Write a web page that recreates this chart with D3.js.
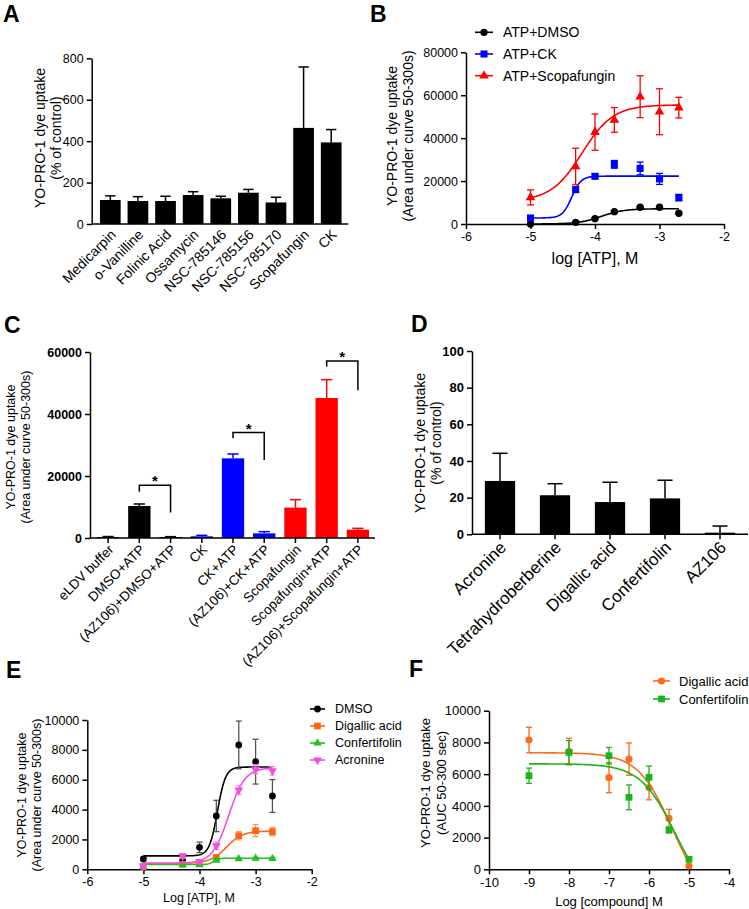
<!DOCTYPE html>
<html>
<head>
<meta charset="utf-8">
<script src="https://cdn.jsdelivr.net/npm/d3@7"></script>
<style>
  body { margin: 0; background: #fff; }
  svg { font-family: "Liberation Sans", Arial, sans-serif; }
</style>
</head>
<body>
<svg id="fig" width="749" height="909"></svg>
<script>
// ---------- data ----------

// A: compound screen, % of control
const aNames = ["Medicarpin", "o-Vanilline", "Folinic Acid", "Ossamycin", "NSC-785146",
                "NSC-785156", "NSC-785170", "Scopafungin", "CK"];
const aMeans = [116, 111, 111, 140, 124, 151, 104, 464, 394];
const aErrs  = [20, 21, 23, 16, 10, 16, 25, 294, 62];
const aTicks = [0, 200, 400, 600, 800];

// B: ATP dose response
const bX     = [-5, -4.3, -4, -3.7, -3.3, -3, -2.7];
const bDmso  = [0, 800, 2500, 5750, 7800, 7800, 5000];
const bDmsoErr = [200, 300, 400, 500, 400, 400, 500];
const bCk    = [2800, 16000, 22200, 27800, 25900, 21000, 12300];
const bCkErr = [600, 1200, 900, 1800, 2950, 2560, 1500];
const bScopa = [12400, 26800, 42800, 48500, 59300, 52300, 54200];
const bScopaErr = [3500, 8500, 8450, 5750, 9750, 10700, 4800];
// fitted curves: [bottom, top, logEC50, hill]
const bFitDmso  = [0, 7100, -3.9, 2.5];
const bFitCk    = [2800, 22300, -4.36, 6];
const bFitScopa = [10700, 55500, -4.2, 1.8];
const bXTicks = [-6, -5, -4, -3, -2];
const bYTicks = [0, 20000, 40000, 60000, 80000];

// C: AZ106 block
const cNames = ["eLDV buffer", "DMSO+ATP", "(AZ106)+DMSO+ATP", "CK", "CK+ATP", "(AZ106)+CK+ATP",
                "Scopafungin", "Scopafungin+ATP", "(AZ106)+Scopafungin+ATP"];
const cMeans = [320, 10320, 320, 540, 25700, 1500, 9800, 45160, 2690];
const cErrs  = [150, 650, 110, 320, 1400, 540, 2570, 5920, 430];
const cGroup = ["#000000", "#000000", "#000000", "#0000ff", "#0000ff", "#0000ff", "#ff0000", "#ff0000", "#ff0000"];
const cTicks = [0, 20000, 40000, 60000];
const cSigPairs = [[1, 2], [4, 5], [7, 8]];
const cSigTop   = [17000, 34000, 57100];
const cSigLeft  = [14900, 32200, 55300];
const cSigRight = [8200, 25200, 47700];

// D: inhibitors, % of control
const dNames = ["Acronine", "Tetrahydroberberine", "Digallic acid", "Confertifolin", "AZ106"];
const dMeans = [29.1, 21.3, 17.6, 19.6, 0.9];
const dErrs  = [15.1, 6.3, 10.8, 9.9, 3.6];
const dTicks = [0, 20, 40, 60, 80, 100];

// E: ATP dose response with inhibitors
const eX = [-5, -4.3, -4, -3.7, -3.3, -3, -2.7];
const eDmso     = [690, 580, 1470, 3570, 8330, 7210, 4910];
const eDmsoErr  = [120, 150, 350, 1050, 1600, 1500, 1100];
const eDig      = [180, 330, 400, 800, 2250, 2590, 2520];
const eDigErr   = [80, 80, 100, 150, 280, 400, 280];
const eConf     = [200, 300, 300, 600, 700, 740, 720];
const eConfErr  = [50, 50, 50, 60, 60, 60, 60];
const eAcro     = [220, 890, 520, 1580, 5310, 6700, 6600];
const eAcroErr  = [80, 150, 100, 250, 300, 300, 280];
const eFitDmso = [900, 6850, -3.68, 6];
const eFitDig  = [400, 2560, -3.52, 3];
const eFitConf = [320, 740, -3.75, 10];
const eFitAcro = [400, 6800, -3.48, 3];
const eXTicks = [-6, -5, -4, -3, -2];
const eYTicks = [0, 2000, 4000, 6000, 8000, 10000];

// F: compound dose response
const fX = [-9, -8, -7, -6.5, -6, -5.5, -5];
const fDig     = [8150, 7420, 5780, 6950, 5150, 3210, 210];
const fDigErr  = [800, 840, 950, 1020, 770, 570, 100];
const fConf    = [5900, 7370, 7160, 4540, 5800, 2480, 630];
const fConfErr = [480, 740, 520, 780, 710, 180, 120];
const fFitDig  = [-2400, 7350, -5.4, -1];
const fFitConf = [-2060, 6650, -5.35, -1];
const fXTicks = [-10, -9, -8, -7, -6, -5, -4];
const fYTicks = [0, 2000, 4000, 6000, 8000, 10000];

// ---------- helpers ----------
const svg = d3.select("#fig");
const plain = d => String(d);   // "80000", "-6" (hyphen, no grouping)

function fourPL(p, x) {
    const [b, t, c, h] = p;
    return b + (t - b) / (1 + Math.pow(10, (c - x) * h));
}

function panelLabel(txt, x, y) {
    svg.append("text").attr("x", x).attr("y", y)
        .attr("font-size", 23).attr("font-weight", "bold").text(txt);
}

function styleAxis(ax, fs, bold) {
    ax.select(".domain").attr("stroke", "#000").attr("stroke-width", 1.5);
    ax.selectAll(".tick line").attr("stroke", "#000").attr("stroke-width", 1.5);
    ax.selectAll(".tick text").attr("fill", "#000").attr("font-size", fs)
        .attr("font-family", "Liberation Sans, Arial, sans-serif")
        .attr("font-weight", bold ? "bold" : "normal");
}

function yTitle(lines, xs, cy, fs) {
    lines.forEach((t, i) => {
        svg.append("text")
            .attr("transform", `translate(${xs[i]},${cy}) rotate(-90)`)
            .attr("text-anchor", "middle").attr("dy", "0.35em")
            .attr("font-size", fs).text(t);
    });
}

// bar chart panel
function barPanel(o) {
    const g = svg.append("g");
    const x = d3.scaleBand().domain(o.names).range(o.xRange)
        .paddingInner(o.pad).paddingOuter(o.pad / 2);
    const y = d3.scaleLinear().domain(o.yDomain).range(o.yRange);
    const bw = x.bandwidth();

    // error bars (upper only)
    o.names.forEach((d, i) => {
        const cx = x(d) + bw / 2, col = o.colors[i];
        g.append("line").attr("x1", cx).attr("x2", cx)
            .attr("y1", y(o.means[i])).attr("y2", y(o.means[i] + o.errs[i]))
            .attr("stroke", col).attr("stroke-width", 1.5);
        g.append("line").attr("x1", cx - bw * 0.25).attr("x2", cx + bw * 0.25)
            .attr("y1", y(o.means[i] + o.errs[i])).attr("y2", y(o.means[i] + o.errs[i]))
            .attr("stroke", col).attr("stroke-width", 1.5);
    });

    g.selectAll("rect.bar").data(o.names).join("rect")
        .attr("class", "bar")
        .attr("x", d => x(d))
        .attr("y", (d, i) => y(o.means[i]))
        .attr("width", bw)
        .attr("height", (d, i) => y(0) - y(o.means[i]))
        .attr("fill", (d, i) => o.colors[i]);

    const ya = g.append("g").attr("transform", `translate(${o.axisX},0)`)
        .call(d3.axisLeft(y).tickValues(o.yTicks).tickFormat(plain)
            .tickSize(5).tickSizeOuter(0).tickPadding(3));
    styleAxis(ya, o.tickFs, o.bold);

    g.append("line").attr("x1", o.axisX).attr("x2", o.axisEnd)
        .attr("y1", y(0)).attr("y2", y(0)).attr("stroke", "#000").attr("stroke-width", 1.5);

    if (o.xTicks) {
        o.names.forEach(d => {
            const cx = x(d) + bw / 2;
            g.append("line").attr("x1", cx).attr("x2", cx).attr("y1", y(0)).attr("y2", y(0) + 5)
                .attr("stroke", "#000").attr("stroke-width", 1.5);
        });
    }

    o.names.forEach(d => {
        const cx = x(d) + bw / 2;
        g.append("text")
            .attr("transform", `translate(${cx + o.lblDx},${y(0) + o.lblDy}) rotate(-45)`)
            .attr("text-anchor", "end").attr("dy", "0.35em")
            .attr("font-size", o.lblFs).text(d);
    });
    return {x, y};
}

// dose-response panel
function curvePanel(o) {
    const g = svg.append("g");
    const x = d3.scaleLinear().domain(o.xDomain).range(o.xRange);
    const y = d3.scaleLinear().domain(o.yDomain).range(o.yRange);

    const xa = g.append("g").attr("transform", `translate(0,${o.yRange[0]})`)
        .call(d3.axisBottom(x).tickValues(o.xTicks).tickFormat(plain)
            .tickSize(5).tickSizeOuter(0).tickPadding(3));
    styleAxis(xa, o.tickFs, false);
    const ya = g.append("g").attr("transform", `translate(${o.xRange[0]},0)`)
        .call(d3.axisLeft(y).tickValues(o.yTicks).tickFormat(plain)
            .tickSize(5).tickSizeOuter(0).tickPadding(3));
    styleAxis(ya, o.tickFs, false);

    const line = d3.line().x(d => x(d[0])).y(d => y(d[1]));

    o.series.forEach(s => {
        const xs = d3.range(s.from, s.to + 1e-9, (s.to - s.from) / 200);
        g.append("path").datum(xs.map(v => [v, fourPL(s.fit, v)]))
            .attr("d", line).attr("fill", "none")
            .attr("stroke", s.color).attr("stroke-width", 1.6);

        o.x.forEach((xv, i) => {
            const cx = x(xv), lo = y(s.vals[i] - s.errs[i]), hi = y(s.vals[i] + s.errs[i]);
            const ec = s.errColor || s.color;
            g.append("line").attr("x1", cx).attr("x2", cx).attr("y1", lo).attr("y2", hi)
                .attr("stroke", ec).attr("stroke-width", 1.3);
            [lo, hi].forEach(yy => g.append("line")
                .attr("x1", cx - o.cap).attr("x2", cx + o.cap).attr("y1", yy).attr("y2", yy)
                .attr("stroke", ec).attr("stroke-width", 1.3));
        });

        g.selectAll(null).data(s.vals).join("path")
            .attr("transform", (d, i) => `translate(${x(o.x[i])},${y(d)}) rotate(${s.rot || 0})`)
            .attr("d", d3.symbol().type(s.shape).size(s.size))
            .attr("fill", s.color);
    });

    // legend
    o.series.forEach((s, i) => {
        const ly = o.legY + i * o.legStep;
        g.append("line").attr("x1", o.legX).attr("x2", o.legX + o.legW)
            .attr("y1", ly).attr("y2", ly).attr("stroke", s.color).attr("stroke-width", 1.6);
        g.append("path")
            .attr("transform", `translate(${o.legX + o.legW / 2},${ly}) rotate(${s.rot || 0})`)
            .attr("d", d3.symbol().type(s.shape).size(s.size)).attr("fill", s.color);
        g.append("text").attr("x", o.legX + o.legW + o.legGap).attr("y", ly).attr("dy", "0.35em")
            .attr("font-size", o.legFs).text(s.name);
    });

    g.append("text").attr("x", o.xTitleX).attr("y", o.xTitleY)
        .attr("text-anchor", "middle").attr("font-size", o.xTitleFs).text(o.xTitle);
    return {x, y};
}

// ---------- panel A ----------
panelLabel("A", 3, 22);
barPanel({
    names: aNames, means: aMeans, errs: aErrs, colors: aNames.map(() => "#000"),
    xRange: [96.5, 345], pad: 0.25, yDomain: [0, 800], yRange: [224, 58.3],
    yTicks: aTicks, axisX: 91.7, axisEnd: 348.3, tickFs: 12.5, bold: false,
    xTicks: false, lblDx: 3, lblDy: 8, lblFs: 14
});
yTitle(["YO-PRO-1 dye uptake", "(% of control)"], [40, 56], 138, 14);

// ---------- panel B ----------
panelLabel("B", 370, 22);
curvePanel({
    x: bX, xDomain: [-6, -2], xRange: [466, 724], yDomain: [0, 80000], yRange: [224, 52.3],
    xTicks: bXTicks, yTicks: bYTicks, tickFs: 12.5, cap: 3.5,
    series: [
        {name: "ATP+DMSO", vals: bDmso, errs: bDmsoErr, fit: bFitDmso, from: -5, to: -2.7,
         color: "#000000", shape: d3.symbolCircle, size: 42},
        {name: "ATP+CK", vals: bCk, errs: bCkErr, fit: bFitCk, from: -5, to: -2.7,
         color: "#0000ff", shape: d3.symbolSquare, size: 50},
        {name: "ATP+Scopafungin", vals: bScopa, errs: bScopaErr, fit: bFitScopa, from: -5, to: -2.7,
         color: "#ff0000", shape: d3.symbolTriangle, size: 40}
    ],
    legX: 475, legW: 18, legGap: 10, legY: 32.3, legStep: 21.7, legFs: 14,
    xTitle: "log [ATP], M", xTitleX: 595, xTitleY: 264, xTitleFs: 16
});
yTitle(["YO-PRO-1 dye uptake", "(Area under curve 50-300s)"], [392, 408], 136, 14);

// ---------- panel C ----------
panelLabel("C", 4, 333);
const cScales = barPanel({
    names: cNames, means: cMeans, errs: cErrs, colors: cGroup,
    xRange: [92.5, 373.5], pad: 0.285, yDomain: [0, 60000], yRange: [538, 352],
    yTicks: cTicks, axisX: 90, axisEnd: 375, tickFs: 12.5, bold: true,
    xTicks: true, lblDx: 3, lblDy: 9, lblFs: 13.5
});
yTitle(["YO-PRO-1 dye uptake", "(Area under curve 50-300s)"], [11, 26], 447, 12.5);

cSigPairs.forEach((p, i) => {
    const {x, y} = cScales, bw = x.bandwidth();
    const x1 = x(cNames[p[0]]) + bw / 2, x2 = x(cNames[p[1]]) + bw / 2;
    svg.append("path")
        .attr("d", `M${x1},${y(cSigLeft[i])}V${y(cSigTop[i])}H${x2}V${y(cSigRight[i])}`)
        .attr("fill", "none").attr("stroke", "#000").attr("stroke-width", 1.5);
    svg.append("text").attr("x", (x1 + x2) / 2).attr("y", y(cSigTop[i]) + 1)
        .attr("text-anchor", "middle").attr("font-size", 15).attr("font-weight", "bold").text("*");
});

// ---------- panel D ----------
panelLabel("D", 411, 332);
barPanel({
    names: dNames, means: dMeans, errs: dErrs, colors: dNames.map(() => "#000"),
    xRange: [472.5, 747.5], pad: 0.45, yDomain: [0, 100], yRange: [534.3, 351],
    yTicks: dTicks, axisX: 472, axisEnd: 748, tickFs: 13, bold: true,
    xTicks: true, lblDx: 3, lblDy: 10, lblFs: 17
});
yTitle(["YO-PRO-1 dye uptake", "(% of control)"], [420, 436], 443, 14);

// ---------- panel E ----------
panelLabel("E", 6, 678);
curvePanel({
    x: eX, xDomain: [-6, -2], xRange: [87.3, 311.7], yDomain: [0, 10000], yRange: [869.3, 720],
    xTicks: eXTicks, yTicks: eYTicks, tickFs: 12.5, cap: 3,
    series: [
        {name: "DMSO", vals: eDmso, errs: eDmsoErr, fit: eFitDmso, from: -5, to: -2.7,
         color: "#000000", errColor: "#555", shape: d3.symbolCircle, size: 36},
        {name: "Digallic acid", vals: eDig, errs: eDigErr, fit: eFitDig, from: -5, to: -2.7,
         color: "#ff6414", errColor: "#ff9a60", shape: d3.symbolSquare, size: 44},
        {name: "Confertifolin", vals: eConf, errs: eConfErr, fit: eFitConf, from: -5, to: -2.7,
         color: "#1fc21f", shape: d3.symbolTriangle, size: 30},
        {name: "Acronine", vals: eAcro, errs: eAcroErr, fit: eFitAcro, from: -5, to: -2.7,
         color: "#f04ee0", errColor: "#f585ea", shape: d3.symbolTriangle, size: 34, rot: 180}
    ],
    legX: 310, legW: 15, legGap: 10, legY: 709, legStep: 17, legFs: 12.5,
    xTitle: "Log [ATP], M", xTitleX: 199, xTitleY: 902, xTitleFs: 12.5
});
yTitle(["YO-PRO-1 dye uptake", "(Area under curve 50-300s)"], [22, 37], 795, 12.5);

// ---------- panel F ----------
panelLabel("F", 409, 677);
curvePanel({
    x: fX, xDomain: [-10, -4], xRange: [489, 729], yDomain: [0, 10000], yRange: [869.3, 710.7],
    xTicks: fXTicks, yTicks: fYTicks, tickFs: 13, cap: 3,
    series: [
        {name: "Digallic acid", vals: fDig, errs: fDigErr, fit: fFitDig, from: -9, to: -5,
         color: "#ff6a1a", shape: d3.symbolCircle, size: 40},
        {name: "Confertifolin", vals: fConf, errs: fConfErr, fit: fFitConf, from: -9, to: -5,
         color: "#19b419", shape: d3.symbolSquare, size: 46}
    ],
    legX: 653, legW: 17, legGap: 9, legY: 681, legStep: 18, legFs: 13,
    xTitle: "Log [compound] M", xTitleX: 609, xTitleY: 906, xTitleFs: 13
});
yTitle(["YO-PRO-1 dye uptake", "(AUC 50-300 sec)"], [425, 441], 783, 13);
</script>
</body>
</html>
